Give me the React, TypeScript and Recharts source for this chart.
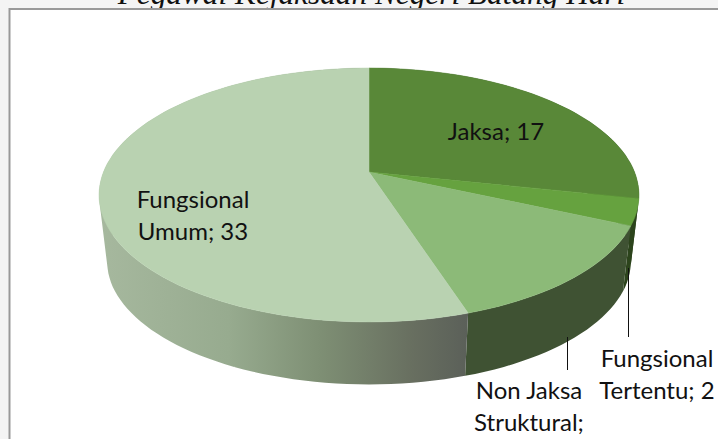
import { Pie, PieChart } from 'recharts'

const CATEGORIES = ['Jaksa', 'Fungsional Tertentu', 'Non Jaksa Struktural', 'Fungsional Umum']
const VALUES = [17, 2, 8, 33]
const TOP_COLORS = ['#598838', '#66a23f', '#8cba78', '#b9d2b1']
const WALL_FILLS = ['#2f4a1d', '#2c441c', '#3f5233', 'url(#umumWall)']
const LABEL_LINES = [['Jaksa; 17'], ['Fungsional', 'Tertentu; 2'], ['Non Jaksa', 'Struktural;'], ['Fungsional', 'Umum; 33']]
const LABEL_ANCHORS = [
  { x: 496, y: 130 },
  { x: 657, y: 357 },
  { x: 529, y: 389 },
  { x: 193, y: 198 },
]
const LEADERS = [null, { x: 628.5, y1: 268, y2: 337 }, { x: 567.5, y1: 337, y2: 370 }, null]

const data = CATEGORIES.map((name, i) => ({ name, value: VALUES[i] }))

// perspective of the tilted disc: apex sits above the middle of the ellipse
const PERSP = -0.181
const TILT = 0.4625
const FLOOR_SCALE = 0.97
const DEPTH = 67

type Pt = { x: number; y: number }

const project = (cx: number, cy: number, r: number, deg: number): Pt => {
  const a = (deg * Math.PI) / 180
  const u = Math.cos(a)
  const v = -Math.sin(a)
  const den = 1 + PERSP * v
  return { x: cx + (r * u) / den, y: cy + (r * TILT * v) / den }
}

const arcPoints = (cx: number, cy: number, r: number, start: number, end: number) => {
  const n = Math.max(2, Math.ceil(Math.abs(end - start) / 2))
  const pts: Pt[] = []
  for (let i = 0; i <= n; i++) pts.push(project(cx, cy, r, start + ((end - start) * i) / n))
  return pts
}

const toPath = (pts: Pt[]) =>
  pts.map((p, i) => `${i ? 'L' : 'M'}${p.x.toFixed(1)},${p.y.toFixed(1)}`).join('') + 'Z'

// all strips wound the same way so they merge into one fill with no seams
const sameWinding = (pts: Pt[]) => {
  let area = 0
  pts.forEach((p, i) => {
    const q = pts[(i + 1) % pts.length]
    area += p.x * q.y - q.x * p.y
  })
  return area < 0 ? [...pts].reverse() : pts
}

const TopSlice = (props: any) => {
  const { cx, cy, outerRadius, startAngle, endAngle, fill } = props
  const pts = [{ x: cx, y: cy }, ...arcPoints(cx, cy, outerRadius, startAngle, endAngle)]
  return <path d={toPath(pts)} fill={fill} stroke={fill} strokeWidth={0.5} />
}

const WallSlice = (props: any) => {
  const { cx, cy, outerRadius, startAngle, endAngle, fill } = props
  const top = arcPoints(cx, cy, outerRadius, startAngle, endAngle)
  const floor = top.map((p) => ({
    x: cx + (p.x - cx) * FLOOR_SCALE,
    y: cy + (p.y - cy) * FLOOR_SCALE + DEPTH,
  }))
  const d = top
    .slice(1)
    .map((p, i) => toPath(sameWinding([top[i], p, floor[i + 1], floor[i]])))
    .join('')
  return <path d={d} fill={fill} fillRule="nonzero" />
}

const SliceLabel = (props: any) => {
  const i = props.index
  const anchor = LABEL_ANCHORS[i]
  const leader = LEADERS[i]
  return (
    <g>
      {leader && <line x1={leader.x} x2={leader.x} y1={leader.y1} y2={leader.y2} stroke="#111" strokeWidth={1} />}
      {LABEL_LINES[i].map((line, k) => (
        <text
          key={line}
          x={anchor.x}
          y={anchor.y + k * 32}
          textAnchor="middle"
          dominantBaseline="central"
          fontFamily="Lato"
          fontSize={24}
          fill="#111"
        >
          {line}
        </text>
      ))}
    </g>
  )
}

export default function App() {
  return (
    <div style={{ position: 'absolute', left: 0, top: 0, width: 718, height: 439, background: '#f4f4f4' }}>
      <PieChart width={718} height={439} margin={{ top: 0, right: 0, bottom: 0, left: 0 }}>
        <defs>
          <linearGradient id="umumWall" gradientUnits="userSpaceOnUse" x1={100} x2={467} y1={0} y2={0}>
            <stop offset="0%" stopColor="#a6b89e" />
            <stop offset="35%" stopColor="#97ab8f" />
            <stop offset="60%" stopColor="#7e8f74" />
            <stop offset="85%" stopColor="#686f60" />
            <stop offset="100%" stopColor="#5b6059" />
          </linearGradient>
        </defs>
        <text x={371.5} y={4} textAnchor="middle" fontFamily="Liberation Serif" fontStyle="italic" fontSize={31.3} fill="#111">
          Pegawai Kejaksaan Negeri Batang Hari
        </text>
        <rect x={9.5} y={9} width={720} height={440} fill="#fff" stroke="#999" strokeWidth={2} />
        <Pie
          data={data}
          dataKey="value"
          nameKey="name"
          cx={369}
          cy={172}
          outerRadius={265.5}
          startAngle={90}
          endAngle={-270}
          paddingAngle={0}
          stroke="none"
          shape={(p: any) => <WallSlice {...p} fill={WALL_FILLS[p.index]} />}
          isAnimationActive={false}
        />
        <Pie
          data={data}
          dataKey="value"
          nameKey="name"
          cx={369}
          cy={172}
          outerRadius={265.5}
          startAngle={90}
          endAngle={-270}
          paddingAngle={0}
          stroke="none"
          shape={(p: any) => <TopSlice {...p} fill={TOP_COLORS[p.index]} />}
          label={SliceLabel}
          labelLine={false}
          isAnimationActive={false}
        />
      </PieChart>
    </div>
  )
}
